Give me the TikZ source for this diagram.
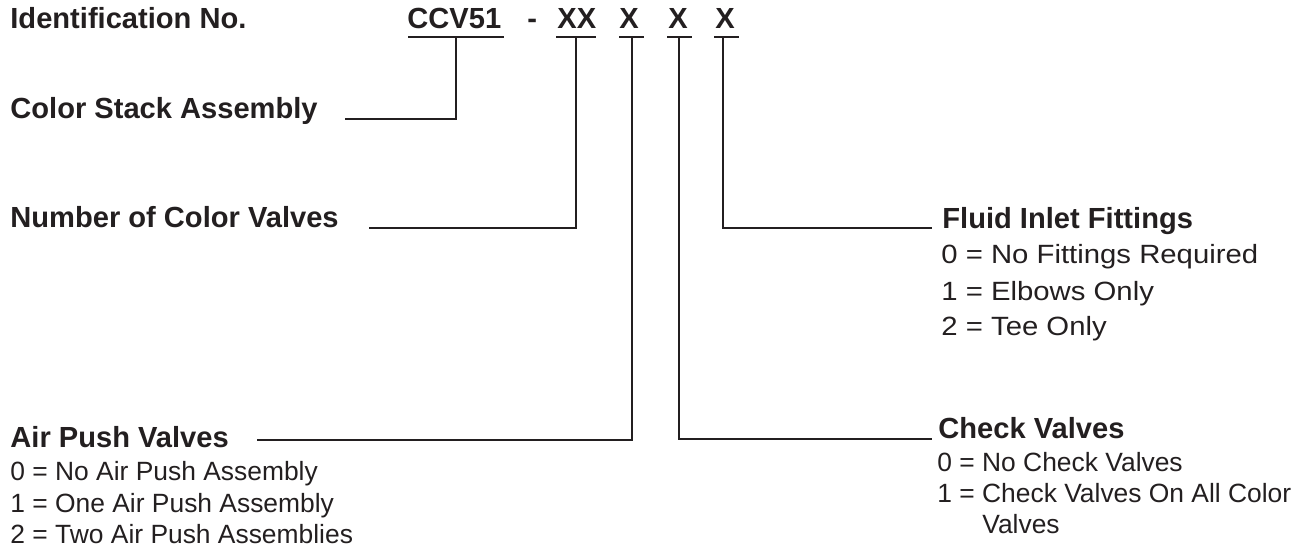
\documentclass[tikz,border=0pt]{standalone}
\usepackage{fontspec}
\newfontfamily\labelsans{Liberation Sans}
\newfontfamily\widesans{Liberation Sans}[FakeStretch=1.11]
\definecolor{ink}{HTML}{231F20}
\tikzset{
  head/.style={font=\labelsans\bfseries\fontsize{14.55}{17}\selectfont, anchor=base west, inner sep=0pt, text=ink},
  opt/.style={font=\labelsans\fontsize{13.2}{15.5}\selectfont, anchor=base west, inner sep=0pt, text=ink},
  wideopt/.style={opt, font=\widesans\fontsize{13.2}{15.5}\selectfont},
  lead/.style={draw=ink, line width=1pt},
}
\begin{document}
\begin{tikzpicture}[x=0.5pt, y=-0.5pt]
  \useasboundingbox (0,0) rectangle (1307,552);

  % code line
  \node[head] (ident) at (10,28) {Identification No.};
  \node[head] (ccv) at (407,28) {CCV51};
  \node[head] (dash) at (527,28) {-};
  \node[head] (xx) at (557,28) {XX};
  \node[head] (xa) at (619,28) {X};
  \node[head] (xb) at (668,28) {X};
  \node[head] (xc) at (715,28) {X};

  % underlines below the code fields
  \coordinate (ccvL) at (408,37);  \coordinate (ccvR) at (504,37);
  \coordinate (xxL)  at (556,37);  \coordinate (xxR)  at (596,37);
  \coordinate (xaL)  at (619,37);  \coordinate (xaR)  at (644,37);
  \coordinate (xbL)  at (667,37);  \coordinate (xbR)  at (692,37);
  \coordinate (xcL)  at (714,37);  \coordinate (xcR)  at (739,37);
  \draw[lead] (ccvL) -- (ccvR);
  \draw[lead] (xxL) -- (xxR);
  \draw[lead] (xaL) -- (xaR);
  \draw[lead] (xbL) -- (xbR);
  \draw[lead] (xcL) -- (xcR);

  % field descriptions
  \node[head] (stack) at (10,118) {Color Stack Assembly};
  \node[head] (num) at (10,227) {Number of Color Valves};

  \node[head] (air) at (10,447) {Air Push Valves};
  \node[opt] (air0) at (10,480) {0 = No Air Push Assembly};
  \node[opt] (air1) at (10,512) {1 = One Air Push Assembly};
  \node[opt] (air2) at (10,543) {2 = Two Air Push Assemblies};

  \node[head] (fluid) at (942,228) {Fluid Inlet Fittings};
  \node[wideopt] (fluid0) at (941,263) {0 = No Fittings Required};
  \node[wideopt] (fluid1) at (941,300) {1 = Elbows Only};
  \node[wideopt] (fluid2) at (941,335) {2 = Tee Only};

  \node[head] (check) at (938,438) {Check Valves};
  \node[opt] (check0) at (937,471) {0 = No Check Valves};
  \node[opt] (check1) at (937,502) {1 = Check Valves On All Color};
  \node[opt] (check1b) at (982,533) {Valves};

  % leader lines from each field to its description
  \coordinate (t1) at (456,37);  \coordinate (e1) at (345,119);
  \coordinate (t2) at (576,37);  \coordinate (e2) at (369,228);
  \coordinate (t3) at (632,37);  \coordinate (e3) at (257,440);
  \coordinate (t4) at (679,37);  \coordinate (e4) at (932,439);
  \coordinate (t5) at (723,37);  \coordinate (e5) at (932,228);
  \draw[lead] (t1) |- (e1);
  \draw[lead] (t2) |- (e2);
  \draw[lead] (t3) |- (e3);
  \draw[lead] (t4) |- (e4);
  \draw[lead] (t5) |- (e5);
\end{tikzpicture}
\end{document}
